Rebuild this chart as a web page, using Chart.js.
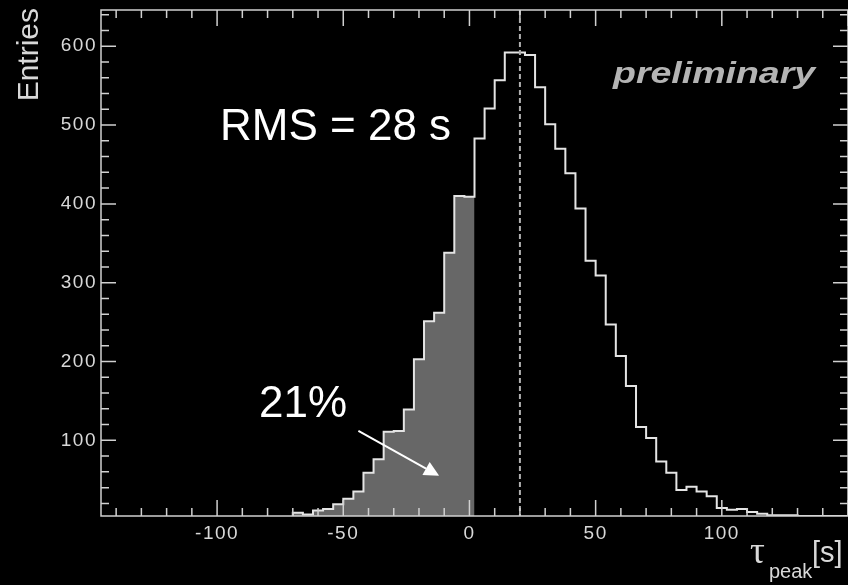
<!DOCTYPE html>
<html>
<head>
<meta charset="utf-8">
<script src="https://cdn.jsdelivr.net/npm/chart.js@4.4.1/dist/chart.umd.min.js"></script>
<style>
  html, body { margin: 0; padding: 0; background: #000; }
  canvas { display: block; }
</style>
</head>
<body>
<canvas id="chartHist" width="848" height="585"></canvas>
<script>
// bin centres (s), 4 s wide bins
const binCenters = [-68, -64, -60, -56, -52, -48, -44, -40, -36, -32, -28, -24, -20, -16, -12, -8, -4, 0,
  4, 8, 12, 16, 20, 24, 28, 32, 36, 40, 44, 48, 52, 56, 60, 64, 68, 72, 76, 80, 84, 88, 92, 96, 100,
  104, 108, 112, 116, 120, 124, 128, 132, 136, 140, 144, 148];
const counts = [6, 8, 6, 11, 13, 19, 26, 35, 59, 76, 111, 112, 139, 203, 251, 262, 338, 410,
  409, 483, 521, 557, 592, 592, 589, 548, 501, 470, 439, 394, 328, 309, 247, 207, 169, 117, 103, 73, 59, 37, 41, 35, 29,
  14, 12, 13, 9, 7, 5, 5, 5, 4, 4, 4, 4];
const binWidth = 4;
const shadeEdge = 2;     // bins left of this edge are shaded (21%)
const peakValue = 20;    // dashed line
const xTickLabels = [-100, -50, 0, 50, 100];
const yTickLabels = [100, 200, 300, 400, 500, 600];
const arrowFrom = [-44, 112];
const arrowTo = [-12, 55];

const stepPoints = (centers, values) => {
  const half = binWidth / 2;
  const pts = [{ x: centers[0] - half, y: 0 }];
  centers.forEach((c, i) => pts.push({ x: c - half, y: values[i] }));
  const last = centers.length - 1;
  pts.push({ x: centers[last] + half, y: values[last] });
  return pts;
};

const outline = stepPoints(binCenters, counts);
const shadedCenters = binCenters.filter((c) => c < shadeEdge);
const shaded = stepPoints(shadedCenters, counts.slice(0, shadedCenters.length));
shaded.push({ x: shadeEdge, y: 0 });

const framePlugin = {
  id: "frame",
  beforeDraw(chart) {
    const ctx = chart.ctx;
    ctx.save();
    ctx.fillStyle = "#000";
    ctx.fillRect(0, 0, chart.width, chart.height);
    ctx.restore();
    ctx.letterSpacing = "1.5px";
  },
  afterDatasetsDraw(chart) {
    const ctx = chart.ctx;
    const a = chart.chartArea;
    const xs = chart.scales.x;
    const ys = chart.scales.y;
    ctx.save();
    // dashed line at the peak
    const px = xs.getPixelForValue(peakValue);
    ctx.strokeStyle = "#b0b0b0";
    ctx.lineWidth = 2;
    ctx.setLineDash([5, 3]);
    ctx.beginPath();
    ctx.moveTo(px, a.top);
    ctx.lineTo(px, a.bottom);
    ctx.stroke();
    ctx.setLineDash([]);

    // frame and inward ticks
    ctx.strokeStyle = "#d0d0d0";
    ctx.lineWidth = 1.5;
    ctx.strokeRect(a.left, a.top, a.right - a.left, a.bottom - a.top);
    ctx.beginPath();
    xs.ticks.forEach((t) => {
      const x = xs.getPixelForValue(t.value);
      const len = t.value % 50 === 0 ? 16 : 8;
      ctx.moveTo(x, a.bottom);
      ctx.lineTo(x, a.bottom - len);
      ctx.moveTo(x, a.top);
      ctx.lineTo(x, a.top + len);
    });
    ys.ticks.forEach((t) => {
      const y = ys.getPixelForValue(t.value);
      const len = t.value % 100 === 0 ? 15 : 8;
      ctx.moveTo(a.left, y);
      ctx.lineTo(a.left + len, y);
      ctx.moveTo(a.right, y);
      ctx.lineTo(a.right - len, y);
    });
    ctx.stroke();

    // arrow towards the shaded part
    const x0 = xs.getPixelForValue(arrowFrom[0]);
    const y0 = ys.getPixelForValue(arrowFrom[1]);
    const x1 = xs.getPixelForValue(arrowTo[0]);
    const y1 = ys.getPixelForValue(arrowTo[1]);
    const ang = Math.atan2(y1 - y0, x1 - x0);
    const hl = 15;
    const hw = 7.5;
    const bx = x1 - hl * Math.cos(ang);
    const by = y1 - hl * Math.sin(ang);
    ctx.strokeStyle = "#fff";
    ctx.fillStyle = "#fff";
    ctx.lineWidth = 2;
    ctx.beginPath();
    ctx.moveTo(x0, y0);
    ctx.lineTo(bx, by);
    ctx.stroke();
    ctx.beginPath();
    ctx.moveTo(x1, y1);
    ctx.lineTo(bx + hw * Math.sin(ang), by - hw * Math.cos(ang));
    ctx.lineTo(bx - hw * Math.sin(ang), by + hw * Math.cos(ang));
    ctx.closePath();
    ctx.fill();
    ctx.restore();
  },
  afterDraw(chart) {
    const ctx = chart.ctx;
    ctx.save();
    ctx.letterSpacing = "0px";
    ctx.textBaseline = "alphabetic";
    ctx.fillStyle = "#fff";
    ctx.font = "44px 'Liberation Sans', Arial, sans-serif";
    ctx.fillText("RMS = 28 s", 220, 140);
    ctx.fillText("21%", 259, 417);

    // wide bold italic label
    ctx.save();
    ctx.fillStyle = "#b4b4b4";
    ctx.font = "italic bold 30px 'Liberation Sans', Arial, sans-serif";
    ctx.translate(613, 83);
    ctx.scale(1.25, 1);
    ctx.fillText("preliminary", 0, 0);
    ctx.restore();

    // axis titles
    ctx.fillStyle = "#d8d8d8";
    ctx.save();
    ctx.translate(38, 8);
    ctx.rotate(-Math.PI / 2);
    ctx.textAlign = "right";
    ctx.font = "30px 'Liberation Sans', Arial, sans-serif";
    ctx.fillText("Entries", 0, 0);
    ctx.restore();

    ctx.font = "37px 'Liberation Serif', serif";
    ctx.fillText("\u03c4", 750, 563);
    ctx.font = "20px 'Liberation Sans', Arial, sans-serif";
    ctx.fillText("peak", 769, 578);
    ctx.font = "29px 'Liberation Sans', Arial, sans-serif";
    ctx.fillText("[s]", 812, 562);
    ctx.restore();
  },
};

const tickFont = { family: "'Liberation Sans', Arial, sans-serif", size: 19 };

new Chart(document.getElementById("chartHist"), {
  type: "line",
  data: {
    datasets: [
      {
        data: outline,
        stepped: "after",
        borderColor: "#e4e4e4",
        borderWidth: 2,
        pointRadius: 0,
        fill: false,
      },
      {
        data: shaded,
        stepped: "after",
        borderColor: "transparent",
        borderWidth: 0,
        backgroundColor: "#676767",
        pointRadius: 0,
        fill: "start",
      },
    ],
  },
  options: {
    animation: false,
    responsive: false,
    devicePixelRatio: 1,
    layout: { padding: { top: 10, right: 0, bottom: 0, left: 0 } },
    plugins: { legend: { display: false }, tooltip: { enabled: false } },
    scales: {
      x: {
        type: "linear",
        min: -146,
        max: 150,
        grid: { display: false, drawTicks: false },
        border: { display: false },
        ticks: {
          stepSize: 10,
          includeBounds: false,
          autoSkip: false,
          maxRotation: 0,
          padding: 6,
          color: "#d8d8d8",
          font: tickFont,
          callback: (v) => (xTickLabels.includes(v) ? String(v) : ""),
        },
        afterFit: (s) => {
          s.height = 69;
          s.paddingLeft = 0;
          s.paddingRight = 0;
        },
      },
      y: {
        type: "linear",
        min: 4,
        max: 646,
        grid: { display: false, drawTicks: false },
        border: { display: false },
        ticks: {
          stepSize: 20,
          includeBounds: false,
          autoSkip: false,
          padding: 4,
          color: "#d8d8d8",
          font: tickFont,
          callback: (v) => (yTickLabels.includes(v) ? String(v) : ""),
        },
        afterFit: (s) => {
          s.width = 101;
          s.paddingTop = 0;
          s.paddingBottom = 0;
        },
      },
    },
  },
  plugins: [framePlugin],
});
</script>
</body>
</html>
